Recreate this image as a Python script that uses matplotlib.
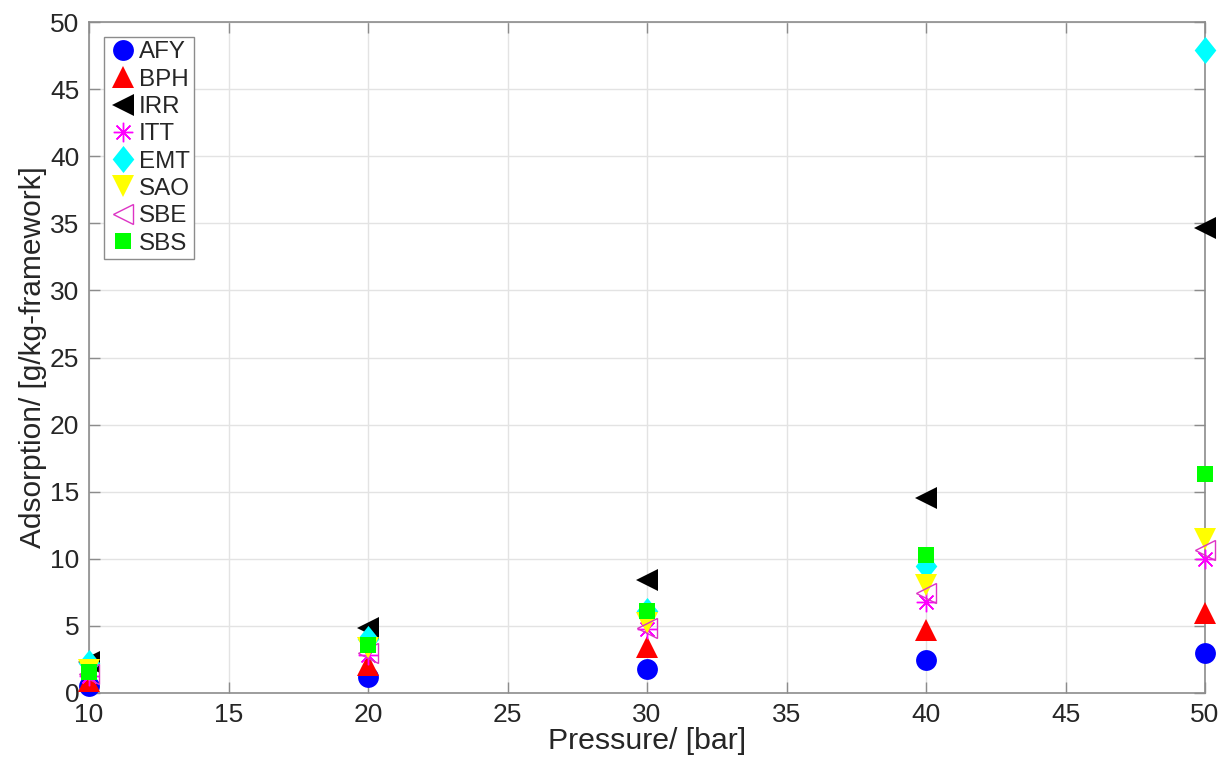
import matplotlib
matplotlib.use("Agg")
import matplotlib.pyplot as plt
from matplotlib.path import Path

pressure = [10, 20, 30, 40, 50]

afy = [0.55, 1.2, 1.76, 2.46, 2.95]
bph = [0.9, 2.1, 3.45, 4.7, 5.94]
irr = [2.3, 4.85, 8.45, 14.5, 34.65]
itt = [1.3, 2.85, 4.8, 6.75, 9.96]
emt = [2.2, 4.0, 6.1, 9.45, 47.9]
sao = [1.75, 3.35, 5.2, 8.05, 11.5]
sbe = [1.45, 3.0, 4.85, 7.45, 10.65]
sbs = [1.6, 3.6, 6.1, 10.25, 16.3]

plt.rcParams['font.family'] = ['Liberation Sans', 'DejaVu Sans']

# narrow diamond like MATLAB's 'd' marker
diamond = Path([(0, 1), (0.8, 0), (0, -1), (-0.8, 0), (0, 1)],
               [Path.MOVETO, Path.LINETO, Path.LINETO, Path.LINETO, Path.CLOSEPOLY])

fig = plt.figure(figsize=(12.23, 7.67), dpi=100)
ax = fig.add_axes([89/1223, 1-693/767, (1205-89)/1223, (693-22)/767])

kw = dict(linestyle='none', clip_on=False, zorder=3)
ax.plot(pressure, afy, marker='o', color='#0000ff', ms=15, mew=0, label='AFY', **kw)
ax.plot(pressure, bph, marker='^', color='#ff0000', ms=16, mew=0, label='BPH', **kw)
ax.plot(pressure, irr, marker='<', color='#000000', ms=16, mew=0, label='IRR', **kw)
ax.plot(pressure, itt, marker=(8, 2, 0), color='#ff00ff', ms=14, mew=1.0, label='ITT', **kw)
ax.plot(pressure, emt, marker=diamond, color='#00ffff', ms=19.5, mew=0, label='EMT', **kw)
ax.plot(pressure, sao, marker='v', color='#ffff00', ms=16, mew=0, label='SAO', **kw)
ax.plot(pressure, sbe, marker='<', color='#dd33c4', ms=14.5, mfc='none', mew=1.0, label='SBE', **kw)
ax.plot(pressure, sbs, marker='s', color='#00ff00', ms=11.3, mew=0, label='SBS', **kw)

ax.set_xlim(10, 50)
ax.set_ylim(0, 50)
ax.set_xticks(range(10, 51, 5))
ax.set_yticks(range(0, 51, 5))
ax.grid(True, color='#e3e3e3', linewidth=1.0)
ax.set_axisbelow(True)
for s in ax.spines.values():
    s.set_color('#8c8c8c')
    s.set_linewidth(1.2)
ax.tick_params(direction='in', length=8, width=1.0, color='#8c8c8c',
               labelsize=19, labelcolor='#262626', top=True, right=True, pad=7)
ax.set_xlabel('Pressure/ [bar]', fontsize=21.8, color='#262626', labelpad=0)
ax.set_ylabel('Adsorption/ [g/kg-framework]', fontsize=21.5, color='#262626', labelpad=2)

leg = ax.legend(loc='upper left', bbox_to_anchor=(15/1116, 1-15/671), fontsize=17.4,
                frameon=True, fancybox=False, framealpha=1, edgecolor='#8c8c8c',
                handletextpad=0.05, borderpad=0.18, labelspacing=0.22, handlelength=1.2,
                borderaxespad=0)
leg.get_frame().set_linewidth(1.0)
for t in leg.get_texts():
    t.set_color('#262626')

fig.savefig('out.png', dpi=100)
